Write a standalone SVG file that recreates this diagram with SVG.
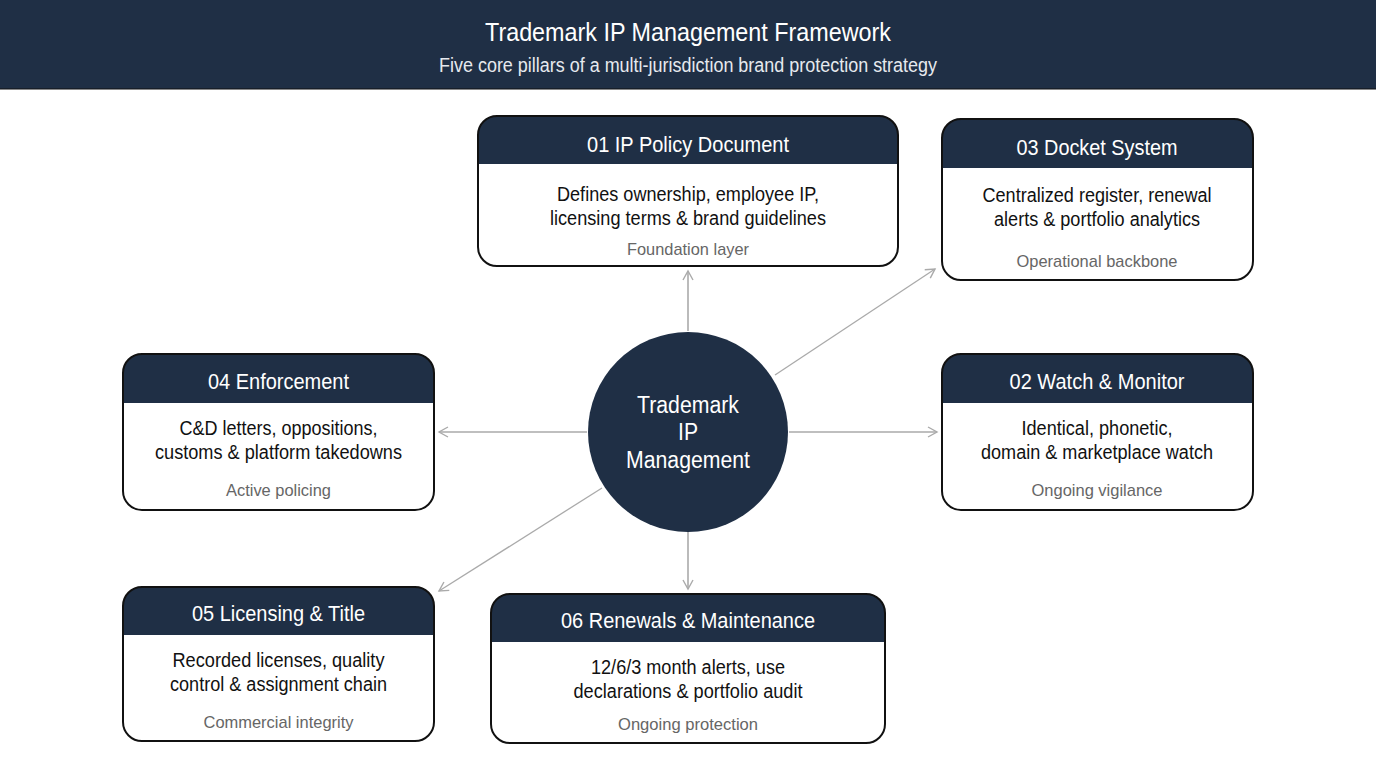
<svg xmlns="http://www.w3.org/2000/svg" width="1376" height="768" viewBox="0 0 1376 768">
<style>
text{font-family:"Liberation Sans",Arial,sans-serif;text-anchor:middle}
.n{fill:#1f2f45}
.o{fill:none;stroke:#111;stroke-width:2}
.h{fill:#fff;font-size:22px}
.b{fill:#111;font-size:19.5px}
.s{fill:#666;font-size:17px}
.c{stroke:#aaa;stroke-width:1.6;fill:none;marker-end:url(#a)}
.d{stroke-width:1.3}
</style>
<defs>
<marker id="a" markerUnits="userSpaceOnUse" markerWidth="14" markerHeight="14" refX="10" refY="6" orient="auto"><path d="M1 1L10 6L1 11" fill="none" stroke="#aaa" stroke-width="1.4"/></marker>
</defs>
<rect width="1376" height="768" fill="#fff"/>
<g id="header">
<rect class="n" width="1376" height="89"/>
<line x1="0" y1="89" x2="1376" y2="89" stroke="#111" stroke-width="1.2"/>
<text class="h" x="688" y="41" style="font-size:25px" textLength="406" lengthAdjust="spacingAndGlyphs">Trademark IP Management Framework</text>
<text x="688" y="71.500" fill="#e6e9ee" style="font-size:19.5px" textLength="498" lengthAdjust="spacingAndGlyphs">Five core pillars of a multi-jurisdiction brand protection strategy</text>
</g>
<g id="connectors">
<line class="c" x1="688" y1="331" x2="688" y2="271"/>
<line class="c d" x1="775" y1="375" x2="935" y2="269"/>
<line class="c" x1="789" y1="432" x2="937" y2="432"/>
<line class="c" x1="587" y1="432" x2="439" y2="432"/>
<line class="c d" x1="602" y1="488" x2="439" y2="591"/>
<line class="c" x1="688" y1="532" x2="688" y2="589"/>
</g>
<g id="hub">
<circle class="n" cx="688" cy="432" r="100"/>
<text class="h" x="688" y="413" style="font-size:23px" textLength="102" lengthAdjust="spacingAndGlyphs">Trademark</text>
<text class="h" x="688" y="440" style="font-size:23px" textLength="20" lengthAdjust="spacingAndGlyphs">IP</text>
<text class="h" x="688" y="468" style="font-size:23px" textLength="124" lengthAdjust="spacingAndGlyphs">Management</text>
</g>
<g id="node01">
<path class="n" d="M478 164V135a19 19 0 0 1 19-19H879a19 19 0 0 1 19 19V164Z"/>
<rect class="o" x="478" y="116" width="420" height="150" rx="19"/>
<text class="h" x="688" y="152" textLength="202" lengthAdjust="spacingAndGlyphs">01 IP Policy Document</text>
<text class="b" x="688" y="201" textLength="262" lengthAdjust="spacingAndGlyphs">Defines ownership, employee IP,</text>
<text class="b" x="688" y="225" textLength="276" lengthAdjust="spacingAndGlyphs">licensing terms &amp; brand guidelines</text>
<text class="s" x="688" y="255" textLength="122" lengthAdjust="spacingAndGlyphs">Foundation layer</text>
</g>
<g id="node03">
<path class="n" d="M942 168V138a19 19 0 0 1 19-19H1234a19 19 0 0 1 19 19V168Z"/>
<rect class="o" x="942" y="119" width="311" height="161" rx="19"/>
<text class="h" x="1097" y="155" textLength="161" lengthAdjust="spacingAndGlyphs">03 Docket System</text>
<text class="b" x="1097" y="202" textLength="229" lengthAdjust="spacingAndGlyphs">Centralized register, renewal</text>
<text class="b" x="1097" y="226" textLength="206" lengthAdjust="spacingAndGlyphs">alerts &amp; portfolio analytics</text>
<text class="s" x="1097" y="267" textLength="161" lengthAdjust="spacingAndGlyphs">Operational backbone</text>
</g>
<g id="node02">
<path class="n" d="M942 403V373a19 19 0 0 1 19-19H1234a19 19 0 0 1 19 19V403Z"/>
<rect class="o" x="942" y="354" width="311" height="156" rx="19"/>
<text class="h" x="1097" y="389" textLength="175" lengthAdjust="spacingAndGlyphs">02 Watch &amp; Monitor</text>
<text class="b" x="1097" y="435" textLength="151" lengthAdjust="spacingAndGlyphs">Identical, phonetic,</text>
<text class="b" x="1097" y="459" textLength="232" lengthAdjust="spacingAndGlyphs">domain &amp; marketplace watch</text>
<text class="s" x="1097" y="496" textLength="131" lengthAdjust="spacingAndGlyphs">Ongoing vigilance</text>
</g>
<g id="node04">
<path class="n" d="M123 403V373a19 19 0 0 1 19-19H415a19 19 0 0 1 19 19V403Z"/>
<rect class="o" x="123" y="354" width="311" height="156" rx="19"/>
<text class="h" x="278.500" y="389" textLength="141" lengthAdjust="spacingAndGlyphs">04 Enforcement</text>
<text class="b" x="278.500" y="435" textLength="198" lengthAdjust="spacingAndGlyphs">C&amp;D letters, oppositions,</text>
<text class="b" x="278.500" y="459" textLength="247" lengthAdjust="spacingAndGlyphs">customs &amp; platform takedowns</text>
<text class="s" x="278.500" y="496" textLength="105" lengthAdjust="spacingAndGlyphs">Active policing</text>
</g>
<g id="node05">
<path class="n" d="M123 635V606a19 19 0 0 1 19-19H415a19 19 0 0 1 19 19V635Z"/>
<rect class="o" x="123" y="587" width="311" height="154" rx="19"/>
<text class="h" x="278.500" y="621" textLength="173" lengthAdjust="spacingAndGlyphs">05 Licensing &amp; Title</text>
<text class="b" x="278.500" y="667" textLength="212" lengthAdjust="spacingAndGlyphs">Recorded licenses, quality</text>
<text class="b" x="278.500" y="691" textLength="217" lengthAdjust="spacingAndGlyphs">control &amp; assignment chain</text>
<text class="s" x="278.500" y="728" textLength="150" lengthAdjust="spacingAndGlyphs">Commercial integrity</text>
</g>
<g id="node06">
<path class="n" d="M491 642V613a19 19 0 0 1 19-19H866a19 19 0 0 1 19 19V642Z"/>
<rect class="o" x="491" y="594" width="394" height="149" rx="19"/>
<text class="h" x="688" y="628" textLength="254" lengthAdjust="spacingAndGlyphs">06 Renewals &amp; Maintenance</text>
<text class="b" x="688" y="674" textLength="194" lengthAdjust="spacingAndGlyphs">12/6/3 month alerts, use</text>
<text class="b" x="688" y="698" textLength="229" lengthAdjust="spacingAndGlyphs">declarations &amp; portfolio audit</text>
<text class="s" x="688" y="730" textLength="140" lengthAdjust="spacingAndGlyphs">Ongoing protection</text>
</g>
</svg>
